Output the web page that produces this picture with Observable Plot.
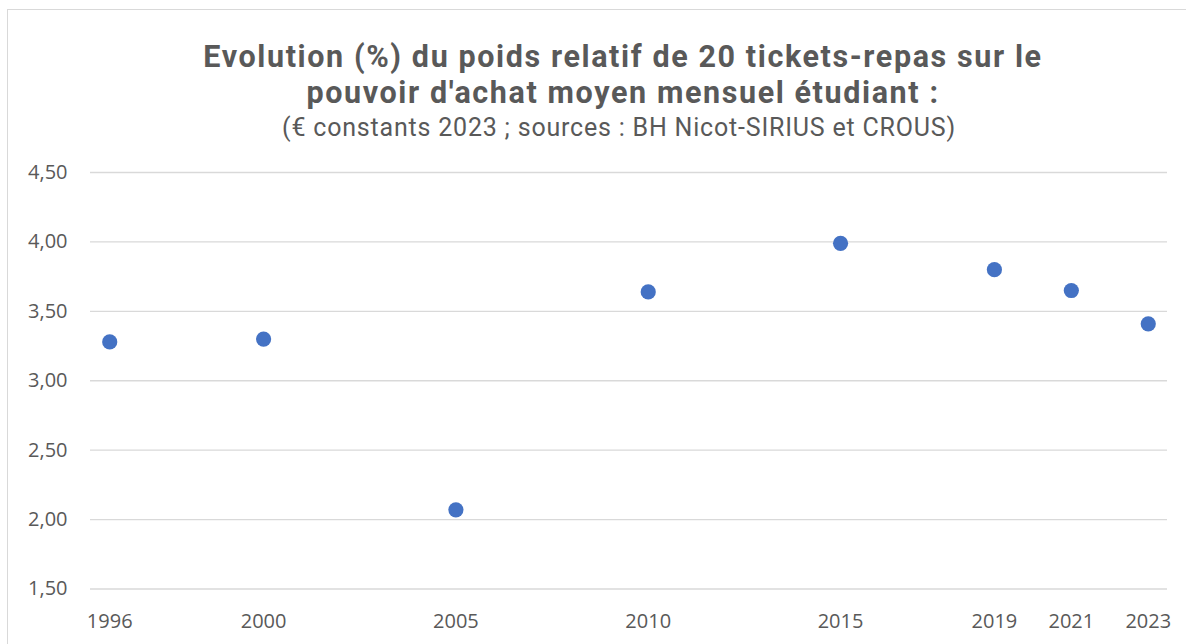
<!DOCTYPE html>
<html>
<head>
<meta charset="utf-8">
<script src="https://cdn.jsdelivr.net/npm/d3@7"></script>
<script src="https://cdn.jsdelivr.net/npm/@observablehq/plot@0.6"></script>
<style>
  html, body { margin: 0; padding: 0; background: #fff; overflow: hidden; }
  #wrap { position: relative; width: 1186px; height: 644px; overflow: hidden; font-family: "Open Sans", Lato, sans-serif; color: #595959; }
  #frame { position: absolute; left: 7px; top: 9px; width: 1300px; height: 800px; border: 1px solid #d9d9d9; box-sizing: border-box; }
  .t { position: absolute; transform: translateX(-50%); white-space: nowrap; text-align: center; font-family: Roboto, "Open Sans", sans-serif; }
  #title { font-weight: 700; font-size: 30.5px; letter-spacing: 1.6px; line-height: 36.7px; left: 623px; }
  #sub { font-size: 25px; letter-spacing: 0.8px; line-height: 1; left: 619px; }
  #chart { position: absolute; left: 0; top: 150px; }
</style>
</head>
<body>
<div id="wrap">
  <div id="frame"></div>
  <div class="t" id="title"></div>
  <div class="t" id="sub"></div>
  <div id="chart"></div>
</div>
<script>
const titleLines = ["Evolution (%) du poids relatif de 20 tickets-repas sur le", "pouvoir d'achat moyen mensuel étudiant :"];
const subtitle = "(€ constants 2023 ; sources : BH Nicot-SIRIUS et CROUS)";
const years = [1996, 2000, 2005, 2010, 2015, 2019, 2021, 2023];
const values = [3.28, 3.30, 2.07, 3.64, 3.99, 3.80, 3.65, 3.41];
const yTicks = [1.5, 2.0, 2.5, 3.0, 3.5, 4.0, 4.5];

const data = years.map((year, i) => ({year, value: values[i]}));

const title = document.getElementById("title");
titleLines.forEach((line, i) => {
  if (i > 0) title.appendChild(document.createElement("br"));
  title.appendChild(document.createTextNode(line));
});
title.style.top = (67.3 - 28.78) + "px";
const sub = document.getElementById("sub");
sub.textContent = subtitle;
sub.style.top = (136.5 - 0.842 * 25) + "px";

const chart = Plot.plot({
  width: 1186,
  height: 494,
  marginTop: 22,
  marginBottom: 55.5,
  marginLeft: 90,
  marginRight: 19,
  style: {fontFamily: "'Open Sans', Lato, sans-serif", fontSize: "20px", color: "#595959", background: "transparent"},
  x: {domain: [1995.5, 2023.5]},
  y: {domain: [1.5, 4.5]},
  marks: [
    Plot.gridY(yTicks, {stroke: "#d9d9d9", strokeOpacity: 1, strokeWidth: 1.4}),
    Plot.axisY(yTicks, {tickSize: 0, tickPadding: 23, tickFormat: d => d.toFixed(2).replace(".", ","), fill: "#595959", label: null}),
    Plot.axisX(years, {tickSize: 0, tickPadding: 25, tickFormat: d => String(d), fill: "#595959", label: null}),
    Plot.dot(data, {x: "year", y: "value", r: 7.6, fill: "#4472C4", stroke: "none"})
  ]
});
document.getElementById("chart").appendChild(chart);
</script>
</body>
</html>
